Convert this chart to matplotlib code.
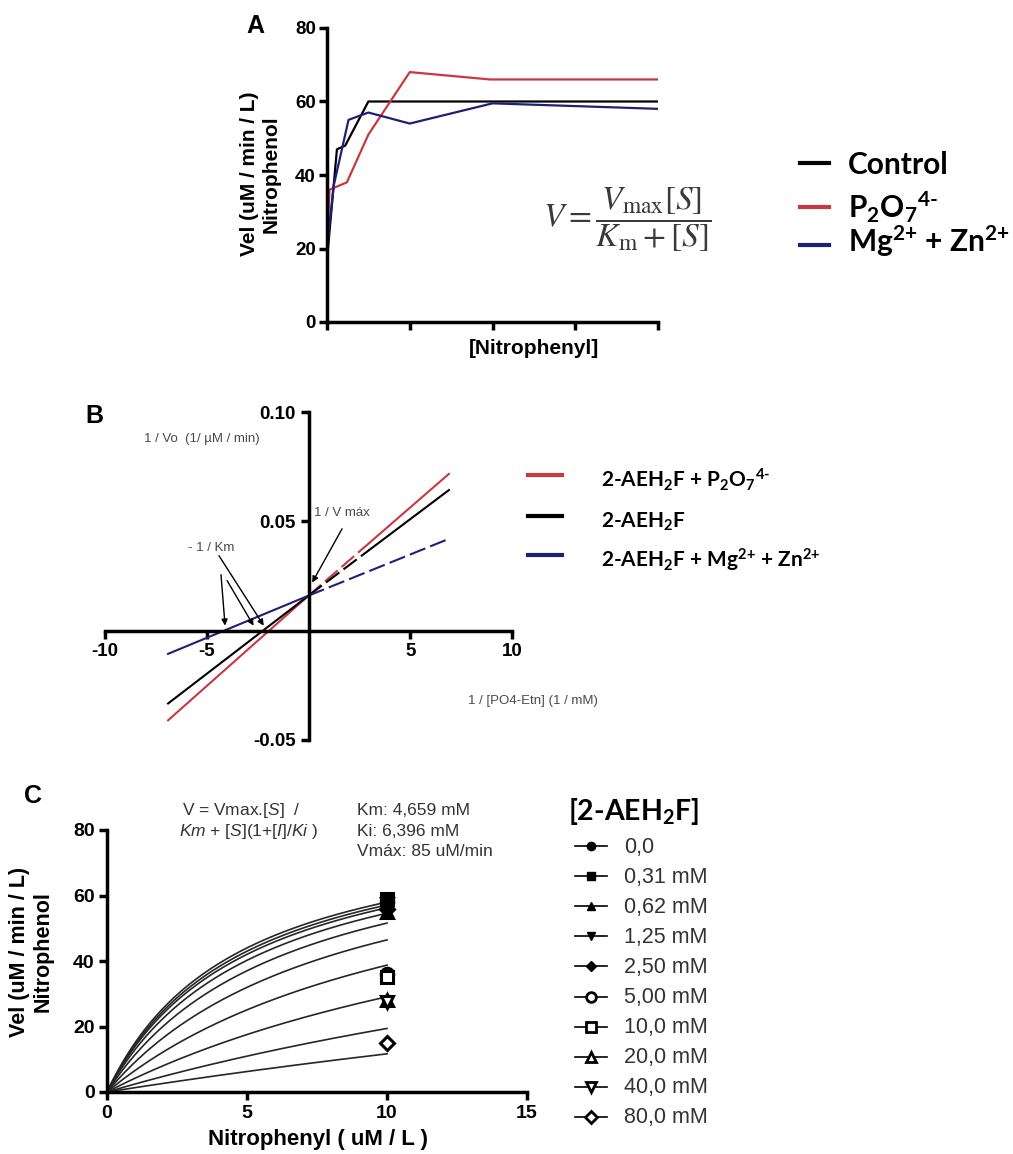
import numpy as np
import matplotlib
matplotlib.use("Agg")
import matplotlib.pyplot as plt

plt.rcParams['font.family'] = ['Liberation Sans', 'DejaVu Sans']
plt.rcParams['axes.unicode_minus'] = False
plt.rcParams['mathtext.fontset'] = 'custom'
plt.rcParams['mathtext.rm'] = 'Lato:bold'
plt.rcParams['mathtext.bf'] = 'Lato:bold'
plt.rcParams['mathtext.it'] = 'Liberation Sans:style=italic:weight=normal'
plt.rcParams['mathtext.sf'] = 'Liberation Sans:weight=normal'

W, H = 1013, 1154
RED = '#c8383f'
NAVY = '#1f1f78'

# --- A: velocity vs substrate
ctrl_x = [0, 0.12, 0.22, 0.5, 4.0]
ctrl_y = [17, 47, 48, 60, 60]
pyro_x = [0, 0.03, 0.24, 0.5, 1.0, 1.97, 4.0]
pyro_y = [19, 36, 38, 51, 68, 66, 66]
mgzn_x = [0, 0.08, 0.26, 0.5, 1.0, 2.0, 4.0]
mgzn_y = [20, 37, 55, 57, 54, 59.5, 58]
legA = ['Control', r'P$_2$O$_7$$^{4\text{-}}$', r'Mg$^{\text{2+}}$ + Zn$^{\text{2+}}$']

# --- B: double reciprocal lines (left end, 1/[S]=0, right end)
lb_x = [-6.9, 0.0, 6.9]
lb_pyro = [-0.041, 0.016, 0.0717]
lb_ctrl = [-0.0333, 0.016, 0.0643]
lb_mgzn = [-0.0106, 0.016, 0.042]
legB = [r'2-AEH$_2$F + P$_2$O$_7$$^{4\text{-}}$', r'2-AEH$_2$F',
        r'2-AEH$_2$F + Mg$^{\text{2+}}$ + Zn$^{\text{2+}}$']

# --- C: competitive inhibition fit
km, ki, vmax = 4.659, 6.396, 85.0
inhib = [0.0, 0.31, 0.62, 1.25, 2.50, 5.00, 10.0, 20.0, 40.0, 80.0]
inhib_lbl = ['0,0', '0,31 mM', '0,62 mM', '1,25 mM', '2,50 mM',
             '5,00 mM', '10,0 mM', '20,0 mM', '40,0 mM', '80,0 mM']
obs_s = 10.0
obs_v = [58, 59, 55, 57.5, 56, 36, 35, 28, 27.5, 15]
mk = ['o', 's', '^', 'v', 'D', 'o', 's', '^', 'v', 'D']
filled = [True] * 5 + [False] * 5

fig = plt.figure(figsize=(W / 100, H / 100), dpi=100)


def px_axes(x0, y0, x1, y1):
    return fig.add_axes([x0 / W, 1 - y1 / H, (x1 - x0) / W, (y1 - y0) / H])


def style(ax, lw=2.5):
    for s in ['top', 'right']:
        ax.spines[s].set_visible(False)
    for s in ['left', 'bottom']:
        ax.spines[s].set_linewidth(lw)
    ax.patch.set_alpha(0)


def bold_ticks(ax):
    plt.setp(ax.get_xticklabels() + ax.get_yticklabels(), fontweight='bold')


# panel A
axA = px_axes(327, 28, 658, 322)
style(axA)
axA.plot(ctrl_x, ctrl_y, color='k', lw=1.6)
axA.plot(pyro_x, pyro_y, color=RED, lw=1.6)
axA.plot(mgzn_x, mgzn_y, color=NAVY, lw=1.6)
axA.set_xlim(0, 4)
axA.set_ylim(0, 80)
axA.set_xticks(range(5))
axA.set_xticklabels([])
axA.set_yticks(range(0, 81, 20))
axA.tick_params(direction='out', length=6, width=2.5, labelsize=13.5, pad=2)
bold_ticks(axA)

# panel B
axB = px_axes(105, 412, 512, 740)
for s in ['top', 'right']:
    axB.spines[s].set_visible(False)
axB.spines['left'].set_position(('data', 0))
axB.spines['bottom'].set_position(('data', 0))
axB.spines['left'].set_linewidth(2.5)
axB.spines['bottom'].set_linewidth(2.5)
axB.patch.set_alpha(0)
axB.set_xlim(-10, 10)
axB.set_ylim(-0.05, 0.10)
axB.set_xticks([-10, -5, 5, 10])
axB.set_yticks([-0.05, 0.05, 0.10])
axB.set_yticklabels(['-0.05', '0.05', '0.10'])
axB.tick_params(direction='out', length=6, width=2.5, labelsize=13.5, pad=3)
bold_ticks(axB)

for ys, col, brk in [(lb_pyro, RED, 3.0), (lb_ctrl, 'k', 3.0), (lb_mgzn, NAVY, 6.9)]:
    axB.plot(lb_x[:2], ys[:2], color=col, lw=1.5)
    yb = np.interp(brk, lb_x, ys)
    axB.plot([0, brk], [ys[1], yb], color=col, lw=1.5, dashes=(8, 2.5))
    if brk < lb_x[-1]:
        axB.plot([brk, lb_x[-1]], [yb, ys[-1]], color=col, lw=1.5)

gray = '#4a4a4a'
axB.text(-8.1, 0.0875, '1 / Vo  (1/ \u00b5M / min)', fontsize=9.5, color=gray, va='center')
axB.text(0.25, 0.054, '1 / V m\u00e1x', fontsize=9.5, color=gray, va='center')
axB.text(-5.9, 0.038, '- 1 / Km', fontsize=9.5, color=gray, va='center')
axB.text(7.85, -0.032, '1 / [PO4-Etn] (1 / mM)', fontsize=9.5, color=gray, va='center')
arw = dict(arrowstyle='-|>', color='k', lw=1.0, mutation_scale=9, shrinkA=0, shrinkB=0)
axB.annotate('', xy=(0.18, 0.022), xytext=(1.65, 0.0466), arrowprops=arw)
axB.annotate('', xy=(-4.1, 0.0023), xytext=(-4.3, 0.0256), arrowprops=arw)
axB.annotate('', xy=(-2.2, 0.0023), xytext=(-4.4, 0.0343), arrowprops=arw)
axB.annotate('', xy=(-2.7, 0.0023), xytext=(-4.0, 0.0229), arrowprops=arw)

# panel C
axC = px_axes(107, 830, 527, 1092)
style(axC)
s = np.linspace(0, 10, 200)
for i in inhib:
    axC.plot(s, vmax * s / (km * (1 + i / ki) + s), color='#262626', lw=1.2)
for v, m, f in zip(obs_v, mk, filled):
    ms = 7 if m == 'D' else 9
    axC.plot([obs_s], [v], marker=m, ms=ms, color='k',
             mfc='k' if f else 'white', mec='k', mew=2.2, clip_on=False)
axC.set_xlim(0, 15)
axC.set_ylim(0, 80)
axC.set_xticks([0, 5, 10, 15])
axC.set_yticks(range(0, 81, 20))
axC.tick_params(direction='out', length=6, width=2.5, labelsize=14, pad=3)
bold_ticks(axC)

# overlay in pixel coordinates for labels and legends
ov = fig.add_axes([0, 0, 1, 1])
ov.set_xlim(0, W)
ov.set_ylim(H, 0)
ov.axis('off')

for lab, x, y in [('A', 255, 26), ('B', 94, 416), ('C', 33, 796)]:
    ov.text(x, y, lab, fontsize=18, fontweight='bold', ha='center', va='center')

ylab = 'Vel (uM / min / L)\nNitrophenol'
ov.text(260, 174, ylab, rotation=90, fontsize=15, fontweight='bold',
        ha='center', va='center', linespacing=1.15)
ov.text(534, 348, '[Nitrophenyl]', fontsize=15, fontweight='bold', ha='center', va='center')
ov.text(31, 952, ylab, rotation=90, fontsize=15.5, fontweight='bold',
        ha='center', va='center', linespacing=1.15)
ov.text(318, 1140, 'Nitrophenyl ( uM / L )', fontsize=16, fontweight='bold',
        ha='center', va='center')

ov.text(627, 220, r'$V=\dfrac{V_{\max}[S]}{K_{\mathrm{m}}+[S]}$', fontsize=24,
        math_fontfamily='stix', color='#3a3a3a', ha='center', va='center')

# legend A
for (col, lab, ly, by) in zip(['k', RED, NAVY], legA, [163, 207, 245], [174, 218, 252]):
    ov.plot([800, 829], [ly, ly], color=col, lw=3)
    ov.text(848, by, lab, family='Lato', fontweight='bold', fontsize=21.5, va='baseline')

# legend B
for (col, lab, ly, by) in zip([RED, 'k', NAVY], legB, [475, 516, 555], [487, 528, 568]):
    ov.plot([528, 562], [ly, ly], color=col, lw=3)
    ov.text(601, by, lab, family='Lato', fontweight='bold', fontsize=15, va='baseline')

# legend C
ov.text(568, 820, r'[2-AEH$_2$F]', family='Lato', fontweight='bold', fontsize=20.5,
        va='baseline')
for k, (lab, m, f) in enumerate(zip(inhib_lbl, mk, filled)):
    yc = 846 + 30.1 * k
    ov.plot([575, 607], [yc, yc], color='k', lw=1.2)
    ms = (5 if m == 'D' else 6) if f else (6 if m == 'D' else 7)
    ov.plot([591], [yc], marker=m, ms=ms, color='k', mfc='k' if f else 'white',
            mec='k', mew=2 if not f else 1)
    ov.text(624, yc + 6.5, lab, fontsize=15.5, color='#333333', va='baseline')

# fit equation and constants
ov.text(182, 815, r'V = Vmax.[$\mathit{S}$]  /', fontsize=12.5, color='#333333',
        va='baseline')
ov.text(179, 836, r'$\mathit{Km}$ + [$\mathit{S}$](1+[$\mathit{I}$]/$\mathit{Ki}$ )',
        fontsize=12.5, color='#333333', va='baseline')
for k, t in enumerate(['Km: 4,659 mM', 'Ki: 6,396 mM', 'Vm\u00e1x: 85 uM/min']):
    ov.text(357, 815 + 20.5 * k, t, fontsize=12.5, color='#333333', va='baseline')

fig.savefig('out.png', dpi=100)
